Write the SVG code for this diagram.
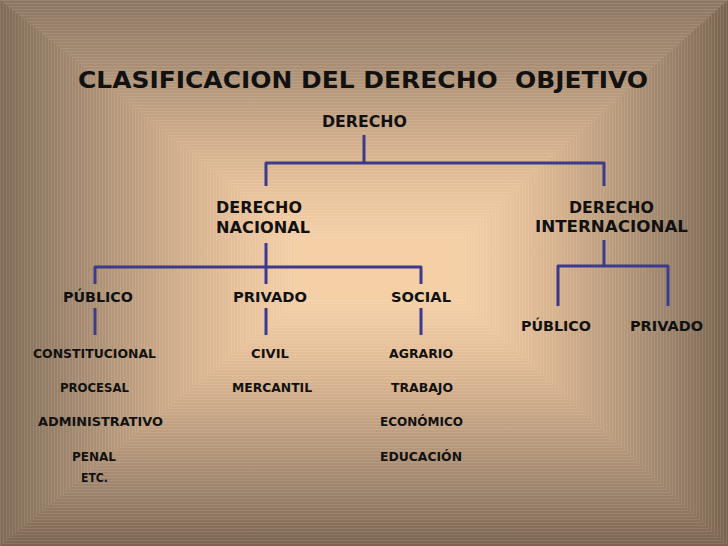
<svg xmlns="http://www.w3.org/2000/svg" width="728" height="546" viewBox="0 0 728 546">
<defs>
<linearGradient id="gTop" gradientUnits="userSpaceOnUse" x1="0" y1="0" x2="0" y2="240">
<stop offset="0" stop-color="#8c7661"/><stop offset="0.2" stop-color="#a08770"/><stop offset="0.4" stop-color="#b99b7d"/><stop offset="0.6" stop-color="#d3af8c"/><stop offset="0.8" stop-color="#e8c29c"/><stop offset="1" stop-color="#f5cfa6"/>
</linearGradient>
<linearGradient id="gBot" gradientUnits="userSpaceOnUse" x1="0" y1="546" x2="0" y2="300">
<stop offset="0" stop-color="#7b644f"/><stop offset="0.2" stop-color="#98806a"/><stop offset="0.4" stop-color="#b5977a"/><stop offset="0.6" stop-color="#d0ac89"/><stop offset="0.8" stop-color="#e6c09a"/><stop offset="1" stop-color="#f5cfa6"/>
</linearGradient>
<linearGradient id="gLeft" gradientUnits="userSpaceOnUse" x1="0" y1="0" x2="300" y2="0">
<stop offset="0" stop-color="#806a55"/><stop offset="0.2" stop-color="#9b836b"/><stop offset="0.4" stop-color="#b8997b"/><stop offset="0.6" stop-color="#d2ae8b"/><stop offset="0.8" stop-color="#e7c19b"/><stop offset="1" stop-color="#f5cfa6"/>
</linearGradient>
<linearGradient id="gRight" gradientUnits="userSpaceOnUse" x1="728" y1="0" x2="460" y2="0">
<stop offset="0" stop-color="#7a634e"/><stop offset="0.2" stop-color="#98806a"/><stop offset="0.4" stop-color="#b6987a"/><stop offset="0.6" stop-color="#d1ad8a"/><stop offset="0.8" stop-color="#e7c19b"/><stop offset="1" stop-color="#f5cfa6"/>
</linearGradient>
<pattern id="hStripe" patternUnits="userSpaceOnUse" width="6" height="3">
<rect x="0" y="0" width="6" height="1" fill="#ffffff" fill-opacity="0.1"/>
</pattern>
<pattern id="vStripe" patternUnits="userSpaceOnUse" width="3" height="6">
<rect x="0" y="0" width="1" height="6" fill="#ffffff" fill-opacity="0.1"/>
</pattern>
<style>
.t{font-family:"DejaVu Sans",Verdana,sans-serif;font-weight:bold;fill:#111;}
.title{font-size:22.5px;white-space:pre;}
.l1{font-size:15.5px;}
.l2{font-size:14.5px;}
.l3{font-size:12px;}
.c{fill:none;stroke:#3b3a8c;stroke-width:3;stroke-linejoin:round;}
</style>
</defs>
<g id="background">
<rect x="0" y="0" width="728" height="546" fill="#c4a383"/>
<polygon points="0,0 728,0 460,240 300,240" fill="url(#gTop)" stroke="url(#gTop)" stroke-width="1.5"/>
<polygon points="0,546 300,300 460,300 728,546" fill="url(#gBot)" stroke="url(#gBot)" stroke-width="1.5"/>
<polygon points="0,0 300,240 300,300 0,546" fill="url(#gLeft)"/>
<polygon points="728,0 728,546 460,300 460,240" fill="url(#gRight)"/>
<rect x="299" y="239" width="162" height="62" fill="#f5cfa6"/>
<polygon points="0,0 728,0 460,240 300,240" fill="url(#hStripe)"/>
<polygon points="0,546 300,300 460,300 728,546" fill="url(#hStripe)"/>
<polygon points="0,0 300,240 300,300 0,546" fill="url(#vStripe)"/>
<polygon points="728,0 728,546 460,300 460,240" fill="url(#vStripe)"/>
</g>
<g id="connectors">
<path class="c" d="M364,135 V163"/>
<path class="c" d="M266,186 V163 H604 V186"/>
<path class="c" d="M266,243 V284"/>
<path class="c" d="M95,284 V267 H421 V284"/>
<path class="c" d="M95,308 V335"/>
<path class="c" d="M266,308 V335"/>
<path class="c" d="M421,308 V335"/>
<path class="c" d="M604,240 V266"/>
<path class="c" d="M558,306 V266 H668 V306"/>
</g>
<g id="title"><text class="t title" x="78" y="88" textLength="570" lengthAdjust="spacingAndGlyphs" xml:space="preserve">CLASIFICACION DEL DERECHO  OBJETIVO</text></g>
<g id="derecho"><text class="t l1" x="322" y="127" textLength="85" lengthAdjust="spacingAndGlyphs">DERECHO</text></g>
<g id="derecho-nacional"><text class="t l1" x="216" y="213" textLength="86" lengthAdjust="spacingAndGlyphs">DERECHO</text><text class="t l1" x="216" y="233" textLength="94" lengthAdjust="spacingAndGlyphs">NACIONAL</text></g>
<g id="derecho-internacional"><text class="t l1" x="569" y="213" textLength="85" lengthAdjust="spacingAndGlyphs">DERECHO</text><text class="t l1" x="535" y="232" textLength="153" lengthAdjust="spacingAndGlyphs">INTERNACIONAL</text></g>
<g id="publico"><text class="t l2" x="63" y="302" textLength="70" lengthAdjust="spacingAndGlyphs">PÚBLICO</text></g>
<g id="privado"><text class="t l2" x="233" y="302" textLength="74" lengthAdjust="spacingAndGlyphs">PRIVADO</text></g>
<g id="social"><text class="t l2" x="391" y="302" textLength="60" lengthAdjust="spacingAndGlyphs">SOCIAL</text></g>
<g id="int-publico"><text class="t l2" x="521" y="331" textLength="70" lengthAdjust="spacingAndGlyphs">PÚBLICO</text></g>
<g id="int-privado"><text class="t l2" x="630" y="331" textLength="73" lengthAdjust="spacingAndGlyphs">PRIVADO</text></g>
<g id="publico-list">
<text class="t l3" x="33" y="358" textLength="123" lengthAdjust="spacingAndGlyphs">CONSTITUCIONAL</text>
<text class="t l3" x="60" y="392" textLength="69" lengthAdjust="spacingAndGlyphs">PROCESAL</text>
<text class="t l3" x="38" y="426" textLength="125" lengthAdjust="spacingAndGlyphs">ADMINISTRATIVO</text>
<text class="t l3" x="72" y="461" textLength="44" lengthAdjust="spacingAndGlyphs">PENAL</text>
<text class="t l3" x="81" y="482" textLength="27" lengthAdjust="spacingAndGlyphs">ETC.</text>
</g>
<g id="privado-list">
<text class="t l3" x="251" y="358" textLength="38" lengthAdjust="spacingAndGlyphs">CIVIL</text>
<text class="t l3" x="232" y="392" textLength="80" lengthAdjust="spacingAndGlyphs">MERCANTIL</text>
</g>
<g id="social-list">
<text class="t l3" x="389" y="358" textLength="64" lengthAdjust="spacingAndGlyphs">AGRARIO</text>
<text class="t l3" x="391" y="392" textLength="62" lengthAdjust="spacingAndGlyphs">TRABAJO</text>
<text class="t l3" x="380" y="426" textLength="83" lengthAdjust="spacingAndGlyphs">ECONÓMICO</text>
<text class="t l3" x="380" y="461" textLength="82" lengthAdjust="spacingAndGlyphs">EDUCACIÓN</text>
</g>
</svg>
